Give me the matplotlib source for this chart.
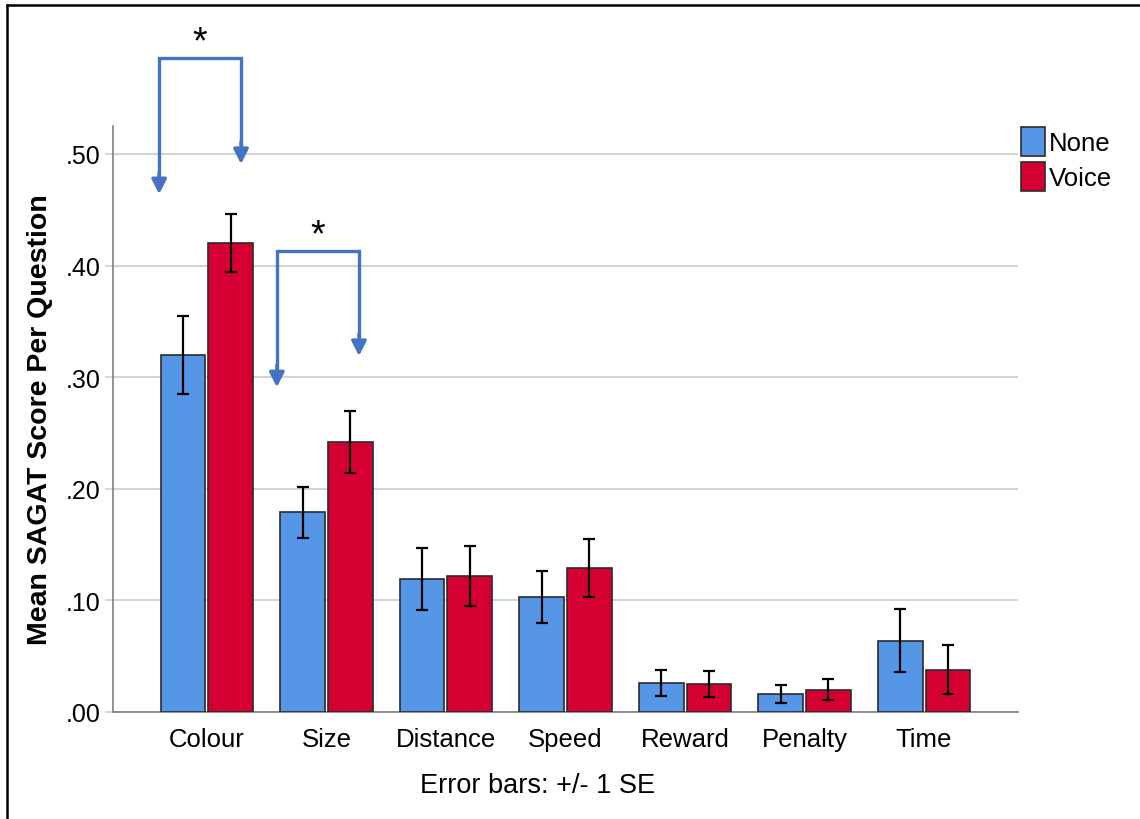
import matplotlib
matplotlib.use("Agg")
import matplotlib.pyplot as plt
from matplotlib.lines import Line2D
import numpy as np

plt.rcParams['font.family'] = ['Liberation Sans', 'DejaVu Sans']

# Mean SAGAT score per question, by feedback condition
categories = ["Colour", "Size", "Distance", "Speed", "Reward", "Penalty", "Time"]
none_mean = [0.320, 0.179, 0.119, 0.103, 0.026, 0.016, 0.064]
none_se = [0.035, 0.023, 0.028, 0.023, 0.012, 0.008, 0.028]
voice_mean = [0.420, 0.242, 0.122, 0.129, 0.025, 0.020, 0.038]
voice_se = [0.026, 0.028, 0.027, 0.026, 0.012, 0.0095, 0.022]
series_labels = ["None", "Voice"]
yticks = [0.0, 0.1, 0.2, 0.3, 0.4, 0.5]
ytick_labels = [".00", ".10", ".20", ".30", ".40", ".50"]

# significance brackets: (left x, right x, top y, left tip y, right tip y)
brackets = [
    (-0.40, 0.285, 0.586, 0.464, 0.491),
    (0.585, 1.272, 0.413, 0.291, 0.319),
]

BLUE = "#5596E6"
RED = "#D50032"
ARROW = "#4472C4"

W, H = 1140, 820
fig = plt.figure(figsize=(W / 100, H / 100), dpi=100)
ax = fig.add_axes([113 / W, 1 - 713 / H, (1018 - 113) / W, (713 - 127) / H])

x = np.arange(len(categories))
bw = 0.375
off = 0.2
err_kw = dict(ecolor="black", elinewidth=1.6, capsize=4.6, capthick=1.6)
ax.bar(x - off, none_mean, bw, yerr=none_se, color=BLUE, edgecolor="#2b2b2b",
       linewidth=1.2, label=series_labels[0], error_kw=err_kw, zorder=3)
ax.bar(x + off, voice_mean, bw, yerr=voice_se, color=RED, edgecolor="#2b2b2b",
       linewidth=1.2, label=series_labels[1], error_kw=err_kw, zorder=3)

ax.set_xlim(-0.786, len(categories) - 1 + 0.786)
ax.set_ylim(0, 0.525)
ax.set_yticks(yticks)
ax.set_yticklabels(ytick_labels)
ax.set_xticks(x)
ax.set_xticklabels(categories)
ax.yaxis.grid(True, color="#cfcfcf", linewidth=1.3, zorder=0)
ax.set_axisbelow(True)

for s in ["top", "right"]:
    ax.spines[s].set_visible(False)
for s in ["left", "bottom"]:
    ax.spines[s].set_color("#7f7f7f")
    ax.spines[s].set_linewidth(1.2)

ax.tick_params(axis="x", length=0, pad=11, labelsize=18.5)
ax.tick_params(axis="y", length=6, color="#cfcfcf", width=1.2, pad=3, labelsize=18)

ax.set_ylabel("Mean SAGAT Score Per Question", fontsize=20.5, fontweight="bold")
ax.yaxis.set_label_coords(-0.066, 0.5)

leg = ax.legend(loc="upper left", bbox_to_anchor=(1021 / W, 1 - 128 / H),
                bbox_transform=fig.transFigure, frameon=False, fontsize=18.5,
                handlelength=0.95, handleheight=1.35, handletextpad=0.12,
                labelspacing=0.25, borderpad=0, borderaxespad=0)

# significance brackets with arrows and stars
for (xl, xr, yt, yl, yr) in brackets:
    ax.plot([xl, xl, xr, xr], [yl + 0.012, yt, yt, yr + 0.012], color=ARROW,
            linewidth=2.4, clip_on=False, solid_joinstyle="miter", zorder=5)
    for xx, yy in [(xl, yl), (xr, yr)]:
        ax.annotate("", xy=(xx, yy), xytext=(xx, yy + 0.02),
                    arrowprops=dict(arrowstyle="-|>,head_length=0.55,head_width=0.28",
                                    color=ARROW, lw=2.4, shrinkA=0, shrinkB=0,
                                    mutation_scale=16),
                    annotation_clip=False, zorder=5)
    ax.text((xl + xr) / 2, yt + 0.005, "*", ha="center", va="baseline",
            fontsize=27, clip_on=False)

fig.text(538 / W, 1 - 786 / H, "Error bars: +/- 1 SE", ha="center", va="center",
         fontsize=19.5)

# outer frame lines (left and top)
fig.add_artist(Line2D([7 / W, 7 / W], [0, 1 - 6 / H], transform=fig.transFigure,
                      color="black", linewidth=1.8))
fig.add_artist(Line2D([7 / W, 1], [1 - 6 / H, 1 - 6 / H], transform=fig.transFigure,
                      color="black", linewidth=1.8))

fig.savefig("out.png", dpi=100, facecolor="white")
